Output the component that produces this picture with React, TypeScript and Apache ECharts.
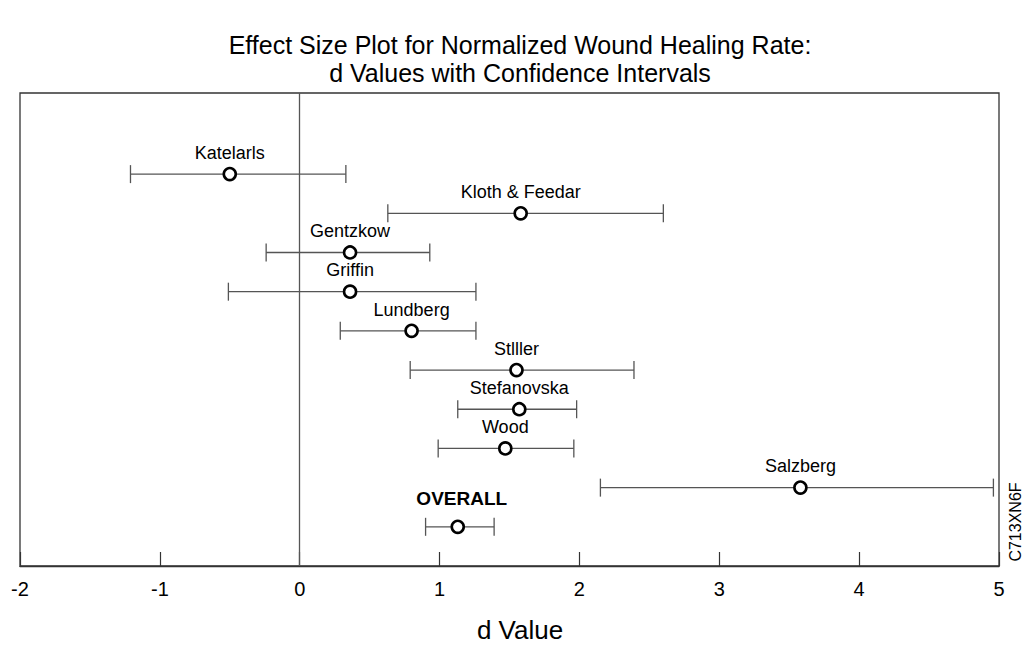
import React, { useEffect, useRef } from "react";
import * as echarts from "echarts";

const studies = ["Katelarls", "Kloth & Feedar", "Gentzkow", "Griffin", "Lundberg", "Stlller", "Stefanovska", "Wood", "Salzberg", "OVERALL"];
const dValues = [-0.5, 1.58, 0.36, 0.36, 0.8, 1.55, 1.57, 1.47, 3.58, 1.13];
const ciLow = [-1.21, 0.63, -0.24, -0.51, 0.29, 0.79, 1.13, 0.99, 2.15, 0.9];
const ciHigh = [0.33, 2.6, 0.93, 1.26, 1.26, 2.39, 1.98, 1.96, 4.96, 1.39];
const rowPos = [9, 8, 7, 6, 5, 4, 3, 2, 1, 0];
const xMin = -2;
const xMax = 5;
const titleLines = ["Effect Size Plot for Normalized Wound Healing Rate:", "d Values with Confidence Intervals"];
const xName = "d Value";
const figureId = "C713XN6F";

const FONT = "'Liberation Sans', Arial, Helvetica, sans-serif";

export default function App() {
  const ref = useRef<HTMLDivElement>(null);
  useEffect(() => {
    if (!ref.current) return;
    const chart = echarts.init(ref.current, null, { renderer: "svg" });
    const barData = studies.map((_, i) => [ciLow[i], ciHigh[i], rowPos[i]]);
    const pointData = studies.map((name, i) => {
      const isOverall = name === "OVERALL";
      return {
        name,
        value: [dValues[i], rowPos[i]],
        label: isOverall
          ? { fontWeight: "bold", fontSize: 19, distance: 12, offset: [4, 0], color: "#000" }
          : undefined,
      };
    });
    chart.setOption({
      animation: false,
      backgroundColor: "#fff",
      textStyle: { fontFamily: FONT },
      grid: {
        left: 20,
        right: 26,
        top: 93,
        bottom: 81,
        show: true,
        borderColor: "#333",
        borderWidth: 1.3,
        containLabel: false,
        outerBoundsMode: "none",
      },
      xAxis: {
        type: "value",
        min: xMin,
        max: xMax,
        interval: 1,
        axisLine: { show: true, onZero: false, lineStyle: { color: "#333", width: 1.3 } },
        axisTick: { show: true, inside: true, length: 14, lineStyle: { color: "#333", width: 1.2 } },
        axisLabel: { show: true, fontSize: 20, color: "#000", margin: 13, fontFamily: FONT },
        splitLine: { show: false },
      },
      yAxis: {
        type: "value",
        min: -1,
        max: 11.07,
        show: false,
        axisLine: { onZero: false },
        splitLine: { show: false },
      },
      graphic: [
        {
          type: "text",
          x: 520,
          y: 45,
          style: { text: titleLines[0], fontSize: 25, fontFamily: FONT, fill: "#000", textAlign: "center", textVerticalAlign: "middle" },
        },
        {
          type: "text",
          x: 520,
          y: 73,
          style: { text: titleLines[1], fontSize: 25, fontFamily: FONT, fill: "#000", textAlign: "center", textVerticalAlign: "middle" },
        },
        {
          type: "text",
          x: 520,
          y: 630,
          style: { text: xName, fontSize: 26, fontFamily: FONT, fill: "#000", textAlign: "center", textVerticalAlign: "middle" },
        },
        {
          type: "text",
          x: 1015,
          y: 522,
          rotation: Math.PI / 2,
          style: { text: figureId, fontSize: 16, fontFamily: FONT, fill: "#000", textAlign: "center", textVerticalAlign: "middle" },
        },
      ],
      series: [
        {
          type: "custom",
          silent: true,
          z: 2,
          data: barData,
          renderItem: (params: any, api: any) => {
            const y = api.value(2);
            const p1 = api.coord([api.value(0), y]);
            const p2 = api.coord([api.value(1), y]);
            const cap = 9;
            const style = { stroke: "#555", lineWidth: 1.3 };
            return {
              type: "group",
              children: [
                { type: "line", shape: { x1: p1[0], y1: p1[1], x2: p2[0], y2: p2[1] }, style },
                { type: "line", shape: { x1: p1[0], y1: p1[1] - cap, x2: p1[0], y2: p1[1] + cap }, style },
                { type: "line", shape: { x1: p2[0], y1: p2[1] - cap, x2: p2[0], y2: p2[1] + cap }, style },
              ],
            };
          },
        },
        {
          type: "scatter",
          z: 3,
          symbol: "circle",
          symbolSize: 12,
          itemStyle: { color: "#fff", borderColor: "#000", borderWidth: 2.6, opacity: 1 },
          label: {
            show: true,
            position: "top",
            distance: 5,
            formatter: "{b}",
            fontSize: 18,
            color: "#000",
            fontFamily: FONT,
          },
          data: pointData,
          markLine: {
            silent: true,
            symbol: "none",
            label: { show: false },
            lineStyle: { color: "#555", width: 1.3, type: "solid" },
            data: [{ xAxis: 0 }],
          },
        },
      ],
    });
    return () => chart.dispose();
  }, []);
  return (
    <div
      ref={ref}
      style={{ position: "fixed", left: 0, top: 0, width: 1025, height: 647 }}
    />
  );
}
